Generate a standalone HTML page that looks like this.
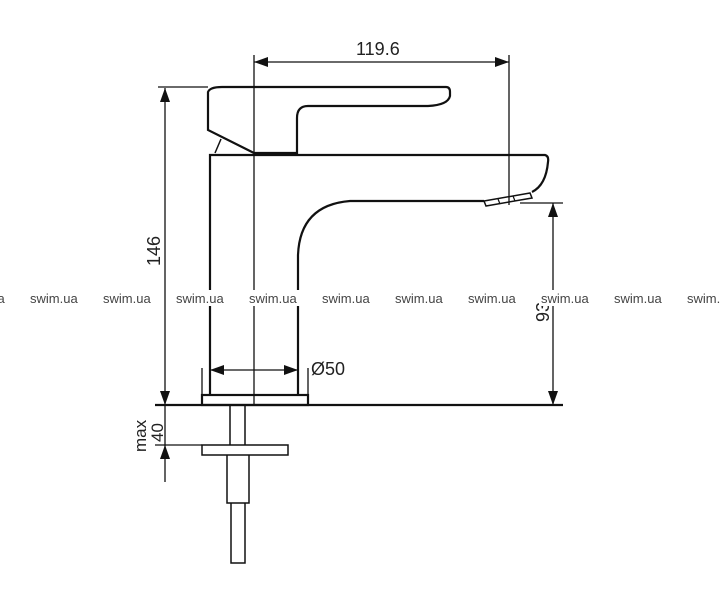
<!DOCTYPE html>
<html><head><meta charset="utf-8"><style>
html,body{margin:0;padding:0;background:#fff;width:720px;height:600px;overflow:hidden}
svg{display:block}
</style></head><body>
<svg width="720" height="600" viewBox="0 0 720 600" xmlns="http://www.w3.org/2000/svg" font-family="Liberation Sans, sans-serif">
<g fill="none" stroke="#111" stroke-width="2.2">
<path d="M208,92 Q210,87 222,87 L446,87 Q450,87 450,92 L450,96 Q448,105 428,106 L308,106 Q297,106 297,118 L297,153 L254,153 L208,130 Z"/>
<path d="M215,153 L221,139" stroke-width="1.5"/>
<path d="M210,395 L210,155 L545,155 Q549,156 548,162 Q546,185 532,192"/>
<path d="M484,201 L350,201 Q300,205 298,255 L298,395"/>
<path d="M484,201 L530,193 L532,198 L486,206 Z" stroke-width="1.5"/>
<path d="M498,199 L500,204 M513,196 L515,201" stroke-width="1.2"/>
<rect x="202" y="395" width="106" height="10"/>
<path d="M230,405 L230,445 M245,405 L245,445" stroke-width="1.5"/>
<rect x="202" y="445" width="86" height="10" stroke-width="1.5"/>
<path d="M227,455 L227,503 L249,503 L249,455" stroke-width="1.5"/>
<path d="M231,503 L231,563 L245,563 L245,503" stroke-width="1.5"/>
</g>
<g fill="none" stroke="#111" stroke-width="1.3">
<path d="M254,55 L254,405"/>
<path d="M254,62 L509,62 M509,55 L509,205"/>
<path d="M158,87 L208,87"/>
<path d="M165,88 L165,405"/>
<path d="M155,405 L563,405" stroke-width="2.2"/>
<path d="M520,203 L563,203 M553,203 L553,405"/>
<path d="M210,370 L298,370 M202,368 L202,395 M308,368 L308,395"/>
<path d="M165,405 L165,445 M155,445 L202,445 M165,445 L165,482"/>
</g>
<g fill="#111">
<path d="M254,62 l14,-5 l0,10 z"/>
<path d="M509,62 l-14,-5 l0,10 z"/>
<path d="M165,88 l-5,14 l10,0 z"/>
<path d="M165,405 l-5,-14 l10,0 z"/>
<path d="M553,203 l-5,14 l10,0 z"/>
<path d="M553,405 l-5,-14 l10,0 z"/>
<path d="M210,370 l14,-5 l0,10 z"/>
<path d="M298,370 l-14,-5 l0,10 z"/>
<path d="M165,445 l-5,14 l10,0 z"/>
</g>
<g fill="#222" font-size="18">
<text x="356" y="55">119.6</text>
<text x="311" y="375">Ø50</text>
<text transform="translate(160,266) rotate(-90)">146</text>
<text transform="translate(549,322) rotate(-90)">93</text>
<text transform="translate(146,452) rotate(-90)" font-size="17">max</text>
<text transform="translate(163,442) rotate(-90)" font-size="17">40</text>
</g>
<g font-size="13" fill="#444">
<text x="-43" y="303">swim.ua</text>
<rect x="28" y="290" width="54" height="16" fill="#fff"/><text x="30" y="303">swim.ua</text>
<rect x="101" y="290" width="54" height="16" fill="#fff"/><text x="103" y="303">swim.ua</text>
<rect x="174" y="290" width="54" height="16" fill="#fff"/><text x="176" y="303">swim.ua</text>
<rect x="247" y="290" width="54" height="16" fill="#fff"/><text x="249" y="303">swim.ua</text>
<rect x="320" y="290" width="54" height="16" fill="#fff"/><text x="322" y="303">swim.ua</text>
<rect x="393" y="290" width="54" height="16" fill="#fff"/><text x="395" y="303">swim.ua</text>
<rect x="466" y="290" width="54" height="16" fill="#fff"/><text x="468" y="303">swim.ua</text>
<rect x="539" y="290" width="54" height="16" fill="#fff"/><text x="541" y="303">swim.ua</text>
<rect x="612" y="290" width="54" height="16" fill="#fff"/><text x="614" y="303">swim.ua</text>
<rect x="685" y="290" width="54" height="16" fill="#fff"/><text x="687" y="303">swim.ua</text>
</g>
</svg>
</body></html>
